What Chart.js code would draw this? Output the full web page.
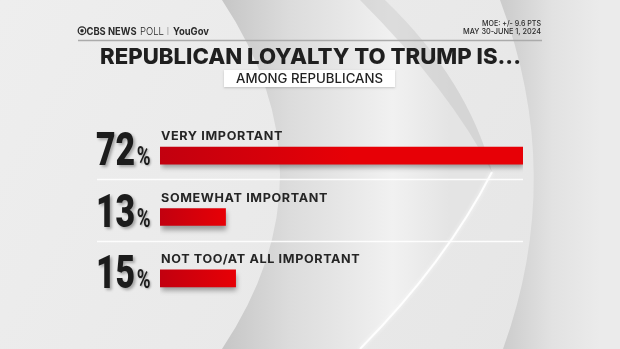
<!DOCTYPE html>
<html>
<head>
<meta charset="utf-8">
<script src="https://cdn.jsdelivr.net/npm/chart.js@4/dist/chart.umd.min.js"></script>
<style>
  html, body { margin: 0; padding: 0; background: #e8e8e8; }
  #wrap { position: relative; width: 620px; height: 349px; }
</style>
</head>
<body>
<div id="wrap"><canvas id="loyaltyChart" width="620" height="349"></canvas></div>
<script>
// poll data
const categories = ['VERY IMPORTANT', 'SOMEWHAT IMPORTANT', 'NOT TOO/AT ALL IMPORTANT'];
const shares = [72, 13, 15];
const titleText = 'REPUBLICAN LOYALTY TO TRUMP IS...';
const subtitleText = 'AMONG REPUBLICANS';
const moeLines = ['MOE: +/- 9.6 PTS', 'MAY 30-JUNE 1, 2024'];

// draw text squeezed/stretched to an exact width
function fitText(c, text, x, y, w, align) {
    const m = c.measureText(text).width;
    c.save();
    c.translate(x, y);
    c.scale(w / m, 1);
    c.textAlign = 'left';
    const ox = align === 'center' ? -m / 2 : align === 'right' ? -m : 0;
    c.fillText(text, ox, 0);
    c.restore();
}

function drawBackdrop(c, w, h) {
    const base = c.createLinearGradient(0, 0, w, h);
    base.addColorStop(0, '#eeeeee');
    base.addColorStop(1, '#e5e5e5');
    c.fillStyle = base;
    c.fillRect(0, 0, w, h);

    // big lens / chevron swoosh
    c.beginPath();
    c.moveTo(222, 0);
    c.quadraticCurveTo(338, 175, 222, h);
    c.lineTo(360, h);
    c.quadraticCurveTo(446, 262, 492, 172);
    c.quadraticCurveTo(468, 80, 385, 0);
    c.closePath();
    const g = c.createLinearGradient(222, 0, 450, 0);
    g.addColorStop(0, '#c6c6c6');
    g.addColorStop(0.3, '#dcdcdc');
    g.addColorStop(0.75, '#f1f1f1');
    g.addColorStop(1, '#e4e4e4');
    c.fillStyle = g;
    c.fill();

    // shading along the upper edge
    c.beginPath();
    c.moveTo(385, 0);
    c.quadraticCurveTo(468, 80, 492, 172);
    c.quadraticCurveTo(450, 90, 360, 0);
    c.closePath();
    c.fillStyle = 'rgba(195,195,195,0.45)';
    c.fill();

    // white highlight on the lower edge
    c.save();
    c.shadowColor = 'rgba(255,255,255,0.9)';
    c.shadowBlur = 4;
    c.beginPath();
    c.moveTo(492, 172);
    c.quadraticCurveTo(446, 262, 360, h);
    c.strokeStyle = 'rgba(255,255,255,0.9)';
    c.lineWidth = 2;
    c.stroke();
    c.restore();

    // right arc
    c.beginPath();
    c.moveTo(500, 0);
    c.quadraticCurveTo(566, 175, 503, h);
    c.lineTo(w, h);
    c.lineTo(w, 0);
    c.closePath();
    const g2 = c.createLinearGradient(505, 0, 600, 0);
    g2.addColorStop(0, '#cdcdcd');
    g2.addColorStop(0.5, '#e2e2e2');
    g2.addColorStop(1, '#ebebeb');
    c.fillStyle = g2;
    c.fill();
}

function drawHeader(c) {
    c.fillStyle = '#2a2a2a';
    c.textBaseline = 'alphabetic';

    // CBS eye
    c.beginPath();
    c.arc(82, 30.7, 3.8, 0, Math.PI * 2);
    c.lineWidth = 1.3;
    c.strokeStyle = '#2a2a2a';
    c.stroke();
    c.beginPath();
    c.arc(82, 30.7, 1.7, 0, Math.PI * 2);
    c.fill();

    c.font = 'bold 10.5px Inter, sans-serif';
    fitText(c, 'CBS NEWS', 86.5, 34.5, 50, 'left');
    c.font = '300 10.5px Inter, sans-serif';
    fitText(c, 'POLL', 140, 34.5, 24, 'left');
    c.fillStyle = '#9a9a9a';
    c.fillRect(167.5, 27, 0.8, 8);
    c.fillStyle = '#2a2a2a';
    c.font = 'bold 10.5px Inter, sans-serif';
    fitText(c, 'YouGov', 173, 34.5, 36, 'left');

    c.font = '500 7.8px Inter, sans-serif';
    fitText(c, moeLines[0], 541, 26, 59, 'right');
    fitText(c, moeLines[1], 541, 34.3, 78, 'right');

    c.beginPath();
    c.moveTo(78, 40.5);
    c.lineTo(542, 40.5);
    c.strokeStyle = '#ababab';
    c.lineWidth = 1.4;
    c.stroke();

    c.fillStyle = '#1f1f1f';
    c.font = '800 22px Inter, sans-serif';
    fitText(c, titleText, 310.5, 63.5, 421, 'center');

    // subtitle box
    c.save();
    c.shadowColor = 'rgba(0,0,0,0.18)';
    c.shadowBlur = 2;
    c.shadowOffsetY = 1;
    c.fillStyle = '#ffffff';
    c.fillRect(224, 70, 171, 17);
    c.restore();
    c.fillStyle = '#222222';
    c.font = '500 12.5px Inter, sans-serif';
    fitText(c, subtitleText, 309.5, 83, 147, 'center');
}

const backdrop = {
    id: 'backdrop',
    beforeDraw(chart) {
        const c = chart.ctx;
        c.save();
        drawBackdrop(c, chart.width, chart.height);
        drawHeader(c);
        // separators between rows
        const ys = chart.scales.y;
        c.strokeStyle = 'rgba(255,255,255,0.9)';
        c.lineWidth = 1.5;
        for (let i = 0; i < categories.length - 1; i++) {
            const y = Math.round(ys.getPixelForValue(i) + 23.5) + 0.5;
            c.beginPath();
            c.moveTo(97, y);
            c.lineTo(chart.chartArea.right, y);
            c.stroke();
        }
        c.restore();
    }
};

const barShadow = {
    id: 'barShadow',
    beforeDatasetsDraw(chart) {
        const c = chart.ctx;
        c.save();
        c.shadowColor = 'rgba(0,0,0,0.35)';
        c.shadowBlur = 5;
        c.shadowOffsetX = 1;
        c.shadowOffsetY = 4;
    },
    afterDatasetsDraw(chart) {
        chart.ctx.restore();
    }
};

const rowLabels = {
    id: 'rowLabels',
    afterDatasetsDraw(chart) {
        const c = chart.ctx;
        const bars = chart.getDatasetMeta(0).data;
        c.save();
        c.textBaseline = 'alphabetic';
        bars.forEach((bar, i) => {
            // category label above bar, slightly widened
            c.save();
            c.fillStyle = '#252525';
            c.font = 'bold 12px Inter, sans-serif';
            c.letterSpacing = '0.6px';
            c.textAlign = 'left';
            c.translate(161, bar.y - 15.5);
            c.scale(1.05, 1);
            c.fillText(categories[i], 0, 0);
            c.restore();

            // big condensed percentage
            c.save();
            c.shadowColor = 'rgba(0,0,0,0.3)';
            c.shadowBlur = 3;
            c.shadowOffsetX = 2;
            c.shadowOffsetY = 2;
            c.fillStyle = '#1c1c1c';
            c.font = '900 47px Roboto, sans-serif';
            const num = String(shares[i]);
            const sx = 0.72;
            const nw = c.measureText(num).width * sx;
            c.translate(96, bar.y + 9.5);
            c.scale(sx, 1);
            c.fillText(num, 0, 0);
            c.restore();

            c.save();
            c.shadowColor = 'rgba(0,0,0,0.3)';
            c.shadowBlur = 2;
            c.shadowOffsetX = 1;
            c.shadowOffsetY = 1;
            c.fillStyle = '#1c1c1c';
            c.font = 'bold 26px Roboto, sans-serif';
            c.translate(96 + nw + 1.5, bar.y + 9.5);
            c.scale(0.72, 1);
            c.fillText('%', 0, 0);
            c.restore();
        });
        c.restore();
    }
};

new Chart(document.getElementById('loyaltyChart'), {
    type: 'bar',
    data: {
        labels: categories,
        datasets: [{
            data: shares,
            barThickness: 17,
            borderWidth: 0,
            borderSkipped: false,
            backgroundColor: function(ctx) {
                const chart = ctx.chart;
                if (!chart.chartArea || ctx.raw === undefined) return '#e00008';
                const xs = chart.scales.x;
                const x0 = xs.getPixelForValue(0);
                const x1 = xs.getPixelForValue(ctx.raw);
                const g = chart.ctx.createLinearGradient(x0, 0, x0 + Math.min(x1 - x0, 190), 0);
                g.addColorStop(0, '#c2000f');
                g.addColorStop(1, '#e70006');
                return g;
            }
        }]
    },
    options: {
        indexAxis: 'y',
        responsive: false,
        animation: false,
        layout: { padding: { left: 160, right: 97, top: 125, bottom: 40 } },
        scales: {
            x: { display: false, min: 0, max: 72 },
            y: { display: false }
        },
        plugins: {
            legend: { display: false },
            tooltip: { enabled: false }
        }
    },
    plugins: [backdrop, barShadow, rowLabels]
});
</script>
</body>
</html>
